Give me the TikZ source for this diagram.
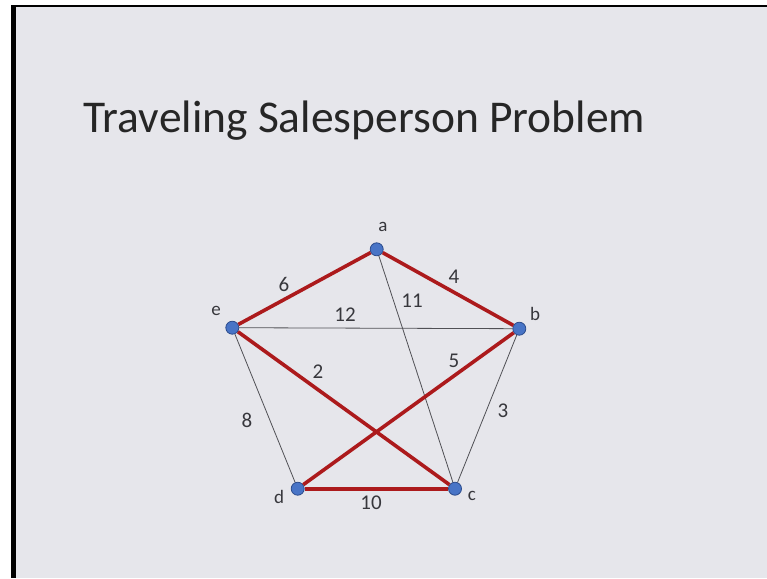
\documentclass[tikz,border=0pt]{standalone}
\usepackage{fontspec}
\setmainfont{Carlito}
\definecolor{slidebg}{RGB}{230,230,235}
\definecolor{tourred}{RGB}{172,26,28}
\definecolor{roadgray}{RGB}{80,80,85}
\definecolor{cityfill}{RGB}{72,116,198}
\definecolor{cityedge}{RGB}{44,76,140}
\definecolor{inkgray}{RGB}{55,55,60}
\begin{document}
\begin{tikzpicture}[x=1pt,y=-1pt,
  city/.style={circle,draw=cityedge,fill=cityfill,line width=.8pt,inner sep=0pt,minimum size=13pt},
  tour/.style={draw=tourred,line width=3.6pt},
  road/.style={draw=roadgray,line width=.8pt},
  weight/.style={font=\fontsize{21}{25}\selectfont,text=inkgray},
  cityname/.style={font=\fontsize{19}{23}\selectfont,text=inkgray}]
\useasboundingbox (0,0) rectangle (767,578);
\fill[white] (0,0) rectangle (767,578);
\fill[black] (11,5) rectangle (767,578);
\fill[slidebg] (16,7) rectangle (767,578);
\node[anchor=base west,font=\fontsize{45.5}{55}\selectfont,text=black!85] (title) at (80,132) {Traveling Salesperson Problem};
\node[city] (a) at (376.7,249.3) {};
\node[city] (b) at (519.3,328.7) {};
\node[city] (c) at (455,488.7) {};
\node[city] (d) at (297.7,488.7) {};
\node[city] (e) at (232.3,327.7) {};
\foreach \u/\v in {a/c,e/b,e/d,b/c}
  \draw[road] (\u) -- (\v);
\foreach \u/\v in {e/a,a/b,b/d,d/c,c/e}
  \draw[tour] (\u) -- (\v);
\node[cityname] (la) at (383,227) {a};
\node[cityname] (lb) at (535,314) {b};
\node[cityname] (lc) at (472,496) {c};
\node[cityname] (ld) at (279,497) {d};
\node[cityname] (le) at (216,311) {e};
\node[weight] (wea) at (284,284) {6};
\node[weight] (wab) at (454,277) {4};
\node[weight] (wac) at (412,301) {11};
\node[weight] (web) at (345,315) {12};
\node[weight] (wbd) at (454,361) {5};
\node[weight] (wce) at (318,372) {2};
\node[weight] (wed) at (247,420) {8};
\node[weight] (wbc) at (503,411) {3};
\node[weight] (wdc) at (371,503) {10};
\end{tikzpicture}
\end{document}
